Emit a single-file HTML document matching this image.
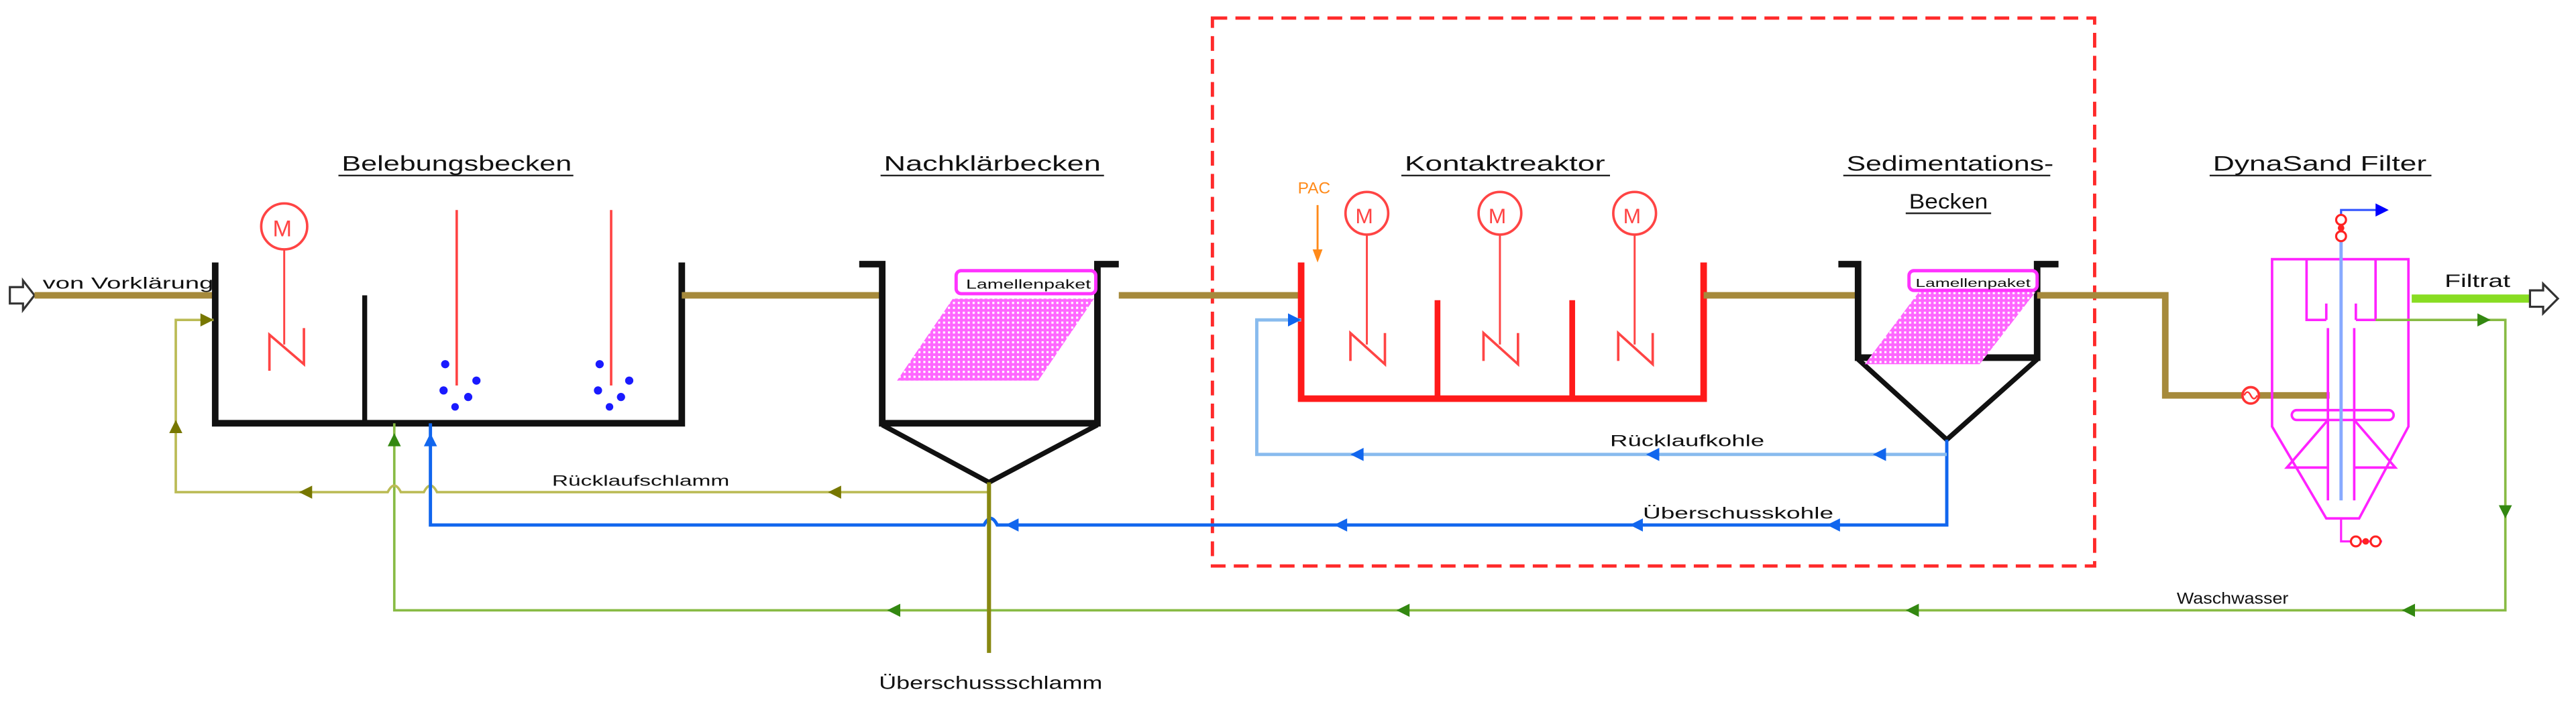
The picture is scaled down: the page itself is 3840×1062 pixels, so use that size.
<!DOCTYPE html>
<html><head><meta charset="utf-8"><style>
html,body{margin:0;padding:0;background:#fff;width:3840px;height:1062px;overflow:hidden}
svg{display:block}
text{font-family:"Liberation Sans Narrow","Liberation Sans",sans-serif;fill:#111}
</style></head><body>
<svg width="3840" height="1062" viewBox="0 0 1568 434" preserveAspectRatio="none" xmlns="http://www.w3.org/2000/svg">
<defs>
<pattern id="hatch" width="3" height="3" patternUnits="userSpaceOnUse">
<rect width="3" height="3" fill="#ff66ff"/><rect x="1" y="1" width="1.3" height="1.3" fill="#fff"/>
</pattern>
</defs>
<!-- red dashed box -->
<rect x="738" y="11" width="537" height="334" fill="none" stroke="#ff2a2a" stroke-width="2" stroke-dasharray="9,5"/>

<!-- inlet arrow -->
<path d="M6,175 h8 v-4 l7,9 l-7,9 v-4 h-8 z" fill="#fff" stroke="#333" stroke-width="1.3"/>
<line x1="21" y1="180" x2="131" y2="180" stroke="#a68a3c" stroke-width="4"/>
<text x="26" y="176" font-size="10" textLength="104" lengthAdjust="spacingAndGlyphs">von Vorklärung</text>

<!-- Belebungsbecken -->
<text x="208" y="104" font-size="13" textLength="140" lengthAdjust="spacingAndGlyphs">Belebungsbecken</text>
<line x1="206" y1="107" x2="349" y2="107" stroke="#222" stroke-width="1"/>
<path d="M131,160 V258 H415 V160" fill="none" stroke="#111" stroke-width="4"/>
<line x1="222" y1="180" x2="222" y2="258" stroke="#111" stroke-width="3"/>
<circle cx="173" cy="138" r="14" fill="none" stroke="#ff4444" stroke-width="1.5"/>
<text x="166" y="144" font-size="14" style="fill:#ff4444">M</text>
<line x1="173" y1="152" x2="173" y2="210" stroke="#ff4444" stroke-width="1.2"/>
<path d="M164,226 V204 L185,222 V200" fill="none" stroke="#ff4444" stroke-width="1.5"/>
<line x1="278" y1="128" x2="278" y2="235" stroke="#ff4444" stroke-width="1.5"/>
<line x1="372" y1="128" x2="372" y2="235" stroke="#ff4444" stroke-width="1.5"/>
<g fill="#1a1aff">
<circle cx="271" cy="222" r="2.5"/><circle cx="270" cy="238" r="2.5"/><circle cx="285" cy="242" r="2.5"/><circle cx="290" cy="232" r="2.5"/><circle cx="277" cy="248" r="2.3"/>
<circle cx="365" cy="222" r="2.5"/><circle cx="364" cy="238" r="2.5"/><circle cx="378" cy="242" r="2.5"/><circle cx="383" cy="232" r="2.5"/><circle cx="371" cy="248" r="2.3"/>
</g>
<line x1="415" y1="180" x2="537" y2="180" stroke="#a68a3c" stroke-width="4"/>

<!-- Nachklärbecken -->
<text x="538" y="104" font-size="13" textLength="132" lengthAdjust="spacingAndGlyphs">Nachklärbecken</text>
<line x1="536" y1="107" x2="672" y2="107" stroke="#222" stroke-width="1"/>
<path d="M523,161 H537 V258 H668 V161 H681" fill="none" stroke="#111" stroke-width="4"/>
<path d="M537,259 L602,294 L668,259" fill="none" stroke="#111" stroke-width="3"/>
<path d="M580,182 H666 L632,232 H546 Z" fill="url(#hatch)"/>
<rect x="582" y="165" width="85" height="14" rx="3" fill="#fff" stroke="#ff33ff" stroke-width="2"/>
<text x="588" y="176" font-size="8" textLength="76" lengthAdjust="spacingAndGlyphs">Lamellenpaket</text>
<line x1="681" y1="180" x2="792" y2="180" stroke="#a68a3c" stroke-width="4"/>

<!-- Kontaktreaktor -->
<text x="855" y="104" font-size="13" textLength="122" lengthAdjust="spacingAndGlyphs">Kontaktreaktor</text>
<line x1="853" y1="107" x2="980" y2="107" stroke="#222" stroke-width="1"/>
<text x="790" y="118" font-size="10" style="fill:#ff8a1a">PAC</text>
<line x1="802" y1="125" x2="802" y2="154" stroke="#ff8a1a" stroke-width="1.2"/>
<path d="M799,152 L802,160 L805,152 Z" fill="#ff8a1a"/>
<path d="M792,160 V243 H1037 V160" fill="none" stroke="#ff1a1a" stroke-width="4"/>
<line x1="875" y1="183" x2="875" y2="243" stroke="#ff1a1a" stroke-width="3.5"/>
<line x1="957" y1="183" x2="957" y2="243" stroke="#ff1a1a" stroke-width="3.5"/>
<g stroke="#ff4444" fill="none">
<circle cx="832" cy="130" r="13" stroke-width="1.5"/><circle cx="913" cy="130" r="13" stroke-width="1.5"/><circle cx="995" cy="130" r="13" stroke-width="1.5"/>
<line x1="832" y1="143" x2="832" y2="210" stroke-width="1.2"/><line x1="913" y1="143" x2="913" y2="210" stroke-width="1.2"/><line x1="995" y1="143" x2="995" y2="210" stroke-width="1.2"/>
<path d="M822,220 V203 L843,222 V203" stroke-width="1.5"/><path d="M903,220 V203 L924,222 V203" stroke-width="1.5"/><path d="M985,220 V203 L1006,222 V203" stroke-width="1.5"/>
</g>
<text x="825" y="136" font-size="13" style="fill:#ff4444">M</text>
<text x="906" y="136" font-size="13" style="fill:#ff4444">M</text>
<text x="988" y="136" font-size="13" style="fill:#ff4444">M</text>
<line x1="1037" y1="180" x2="1131" y2="180" stroke="#a68a3c" stroke-width="4"/>

<!-- Sedimentationsbecken -->
<text x="1124" y="104" font-size="13" textLength="126" lengthAdjust="spacingAndGlyphs">Sedimentations-</text>
<line x1="1122" y1="107" x2="1248" y2="107" stroke="#222" stroke-width="1"/>
<text x="1162" y="127" font-size="13" textLength="48" lengthAdjust="spacingAndGlyphs">Becken</text>
<line x1="1160" y1="130" x2="1212" y2="130" stroke="#222" stroke-width="1"/>
<path d="M1119,161 H1131 V218 H1240 V161 H1253" fill="none" stroke="#111" stroke-width="4"/>
<path d="M1131,219 L1185,268 L1240,219" fill="none" stroke="#111" stroke-width="3"/>
<path d="M1168,178 H1239 L1205,222 H1135 Z" fill="url(#hatch)"/>
<rect x="1162" y="165" width="78" height="12" rx="3" fill="#fff" stroke="#ff33ff" stroke-width="2"/>
<text x="1166" y="175" font-size="7" textLength="70" lengthAdjust="spacingAndGlyphs">Lamellenpaket</text>
<path d="M1240,180 H1318 V241 H1418" fill="none" stroke="#a68a3c" stroke-width="4"/>
<circle cx="1370" cy="241" r="5" fill="#fff" stroke="#ff3333" stroke-width="1.5"/>
<path d="M1366,241 q2,-4 4,0 q2,4 4,0" fill="none" stroke="#ff3333" stroke-width="1"/>

<!-- DynaSand Filter -->
<text x="1347" y="104" font-size="13" textLength="130" lengthAdjust="spacingAndGlyphs">DynaSand Filter</text>
<line x1="1345" y1="107" x2="1480" y2="107" stroke="#222" stroke-width="1"/>
<g fill="none" stroke="#ff22ff" stroke-width="1.5">
<path d="M1383,158 H1466 V260 L1436,316 H1416 L1383,260 Z"/>
<path d="M1404,158 V195 H1416 M1446,158 V195 H1434"/>
<path d="M1416,195 V185 M1434,195 V185"/>
<line x1="1417" y1="200" x2="1417" y2="305"/><line x1="1433" y1="200" x2="1433" y2="305"/>
<rect x="1395" y="250" width="62" height="6" rx="3"/>
<path d="M1417,256 L1392,285 H1417 M1433,256 L1458,285 H1433"/>
</g>
<line x1="1425" y1="146" x2="1425" y2="305" stroke="#88aaff" stroke-width="2"/>
<path d="M1425,138 V128 H1450" fill="none" stroke="#3355ff" stroke-width="1.3"/>
<path d="M1446,124 L1454,128 L1446,132 Z" fill="#0000ff"/>
<g fill="#fff" stroke="#ff2222" stroke-width="1.3"><circle cx="1425" cy="134" r="3"/><circle cx="1425" cy="144" r="3"/></g>
<circle cx="1425" cy="139" r="2" fill="#ff2222"/>
<path d="M1425,316 V330 H1450" fill="none" stroke="#ff22ff" stroke-width="1.3"/>
<g fill="#fff" stroke="#ff2222" stroke-width="1.3"><circle cx="1434" cy="330" r="3"/><circle cx="1446" cy="330" r="3"/></g>
<circle cx="1440" cy="330" r="2" fill="#ff2222"/>
<line x1="1468" y1="182" x2="1542" y2="182" stroke="#88dd22" stroke-width="5"/>
<path d="M1540,177 h8 v-4 l9,9 l-9,9 v-4 h-8 z" fill="#fff" stroke="#333" stroke-width="1.3"/>
<text x="1488" y="175" font-size="11" textLength="40" lengthAdjust="spacingAndGlyphs">Filtrat</text>

<!-- Waschwasser -->
<path d="M1446,195 H1525 V372 H240 V258" fill="none" stroke="#88bb44" stroke-width="1.5"/>
<g fill="#338811">
<path d="M1508,191 L1516,195 L1508,199 Z"/><path d="M1521,308 L1525,316 L1529,308 Z"/>
<path d="M1470,368 L1462,372 L1470,376 Z"/><path d="M1168,368 L1160,372 L1168,376 Z"/>
<path d="M858,368 L850,372 L858,376 Z"/><path d="M548,368 L540,372 L548,376 Z"/>
<path d="M236,272 L240,264 L244,272 Z"/>
</g>
<text x="1325" y="368" font-size="10" textLength="68" lengthAdjust="spacingAndGlyphs">Waschwasser</text>

<!-- Rücklaufschlamm -->
<path d="M603,300 H266 q-4,-8 -8,0 H244 q-4,-8 -8,0 H107 V195 H130" fill="none" stroke="#bbbb55" stroke-width="1.5"/>
<g fill="#777700">
<path d="M512,296 L504,300 L512,304 Z"/><path d="M190,296 L182,300 L190,304 Z"/>
<path d="M103,264 L107,256 L111,264 Z"/><path d="M122,191 L130,195 L122,199 Z"/>
</g>
<text x="336" y="296" font-size="9" textLength="108" lengthAdjust="spacingAndGlyphs">Rücklaufschlamm</text>

<!-- Überschusskohle -->
<path d="M1185,268 V320 H607 q-4,-8 -8,0 H262 V258" fill="none" stroke="#1166ee" stroke-width="2"/>
<g fill="#1166ee">
<path d="M1120,316 L1112,320 L1120,324 Z"/><path d="M1000,316 L992,320 L1000,324 Z"/>
<path d="M820,316 L812,320 L820,324 Z"/><path d="M620,316 L612,320 L620,324 Z"/>
<path d="M258,272 L262,264 L266,272 Z"/>
</g>
<text x="1000" y="316" font-size="10" textLength="116" lengthAdjust="spacingAndGlyphs">Überschusskohle</text>

<!-- Rücklaufkohle -->
<path d="M1185,277 H765 V195 H792" fill="none" stroke="#88bbee" stroke-width="2"/>
<g fill="#1166ee">
<path d="M1148,273 L1140,277 L1148,281 Z"/><path d="M1010,273 L1002,277 L1010,281 Z"/>
<path d="M830,273 L822,277 L830,281 Z"/><path d="M784,191 L792,195 L784,199 Z"/>
</g>
<text x="980" y="272" font-size="10" textLength="94" lengthAdjust="spacingAndGlyphs">Rücklaufkohle</text>

<!-- Überschussschlamm -->
<line x1="602" y1="294" x2="602" y2="398" stroke="#888811" stroke-width="2.5"/>
<text x="535" y="420" font-size="11" textLength="136" lengthAdjust="spacingAndGlyphs">Überschussschlamm</text>
</svg>
</body></html>
